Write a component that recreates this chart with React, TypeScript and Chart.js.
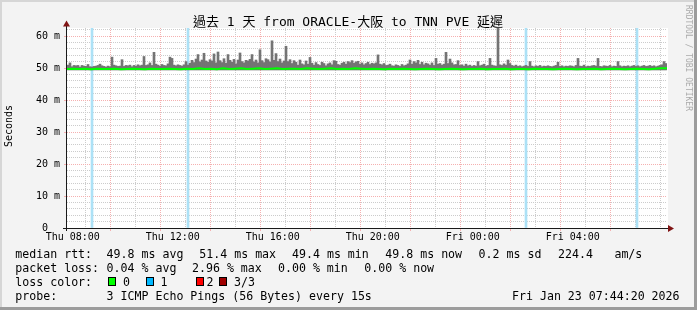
import { useEffect, useRef } from 'react';
import { Chart, registerables } from 'chart.js';

Chart.register(...registerables);

// ---- time axis (hours since Thu 00:00) ----
const START_HOUR = 7.77;
const END_HOUR = 31.77;
const SMOKE_STEP = 0.08; // hours per smoke sample
const MEDIAN_STEP = 0.24; // hours per median sample

const X_GRID_HOURS: number[] = [8, 9, 10, 11, 12, 13, 14, 15, 16, 17, 18, 19, 20, 21, 22, 23, 24, 25, 26, 27, 28, 29, 30, 31];
const X_LABEL_HOURS: number[] = [8, 12, 16, 20, 24, 28];
const X_TICK_LABELS: string[] = ['Thu 08:00', 'Thu 12:00', 'Thu 16:00', 'Thu 20:00', 'Fri 00:00', 'Fri 04:00'];

const Y_MAX = 62.5;
const Y_GRID: number[] = [0, 2, 4, 6, 8, 10, 12, 14, 16, 18, 20, 22, 24, 26, 28, 30, 32, 34, 36, 38, 40, 42, 44, 46, 48, 50, 52, 54, 56, 58, 60, 62];
const Y_LABEL_VALUES: number[] = [0, 10, 20, 30, 40, 50, 60];
const Y_TICK_LABELS: string[] = ['0  ', '10 m', '20 m', '30 m', '40 m', '50 m', '60 m'];

// ---- data (ms) ----
const SMOKE_FLOOR = 49.4;
const SMOKE_MAX: number[] = [
  50.9, 51.6, 50.4, 50.8, 50.7, 50.8, 50.3, 50.8, 50.6, 50.5,
  51.1, 50.4, 50.3, 50.5, 50.6, 50.8, 51.2, 50.7, 50.5, 50.3,
  50.6, 50.4, 53.4, 50.9, 50.7, 50.5, 50.6, 52.6, 50.5, 50.8,
  50.7, 50.9, 50.4, 50.8, 50.6, 51.0, 50.7, 50.9, 53.6, 50.8,
  51.0, 51.6, 50.8, 54.9, 51.2, 50.9, 50.6, 51.1, 50.8, 50.7,
  51.3, 53.4, 53.0, 50.9, 50.7, 51.0, 50.8, 50.6, 51.0, 52.0,
  50.9, 51.5, 52.4, 51.7, 52.8, 54.2, 51.9, 52.5, 54.6, 52.2,
  51.8, 52.6, 52.2, 54.4, 51.6, 55.0, 52.3, 51.7, 52.9, 51.5,
  54.2, 52.4, 51.8, 52.7, 51.3, 52.5, 54.7, 52.0, 51.6, 52.4,
  52.2, 52.7, 54.2, 51.9, 52.5, 51.6, 55.7, 52.3, 51.7, 52.9,
  52.6, 51.9, 58.5, 52.4, 54.5, 52.0, 52.8, 51.6, 52.2, 56.8,
  52.0, 52.6, 51.4, 52.3, 51.8, 50.9, 52.5, 51.3, 51.0, 52.2,
  51.2, 53.3, 51.5, 50.9, 51.7, 51.1, 50.8, 51.8, 51.4, 50.7,
  51.3, 51.6, 51.0, 52.3, 52.1, 51.1, 50.9, 51.5, 51.8, 51.2,
  52.0, 51.7, 52.3, 51.5, 51.9, 52.1, 51.2, 51.6, 51.0, 51.4,
  51.8, 51.1, 51.5, 51.3, 51.6, 54.1, 51.2, 51.0, 51.4, 50.8,
  50.9, 51.2, 50.7, 50.6, 51.0, 50.8, 50.5, 51.1, 50.7, 50.9,
  51.3, 52.5, 51.2, 52.0, 51.6, 52.4, 51.1, 51.8, 51.0, 51.5,
  51.3, 50.9, 51.6, 50.8, 53.0, 51.2, 51.4, 50.9, 51.2, 54.9,
  51.4, 52.8, 51.6, 51.0, 51.1, 52.3, 50.8, 51.0, 50.6, 51.2,
  50.7, 50.9, 50.5, 50.8, 50.6, 52.0, 50.7, 50.9, 51.2, 50.6,
  50.8, 53.0, 50.9, 50.7, 50.6, 70.0, 51.0, 50.8, 51.3, 50.9,
  52.5, 51.4, 50.8, 50.6, 50.9, 50.5, 50.7, 50.4, 50.6, 50.8,
  50.5, 52.0, 50.6, 50.4, 50.7, 50.5, 50.8, 50.4, 50.6, 50.5,
  50.7, 50.5, 50.4, 50.6, 50.8, 51.8, 50.5, 50.7, 50.4, 50.6,
  50.5, 50.7, 50.6, 50.4, 50.8, 53.0, 50.6, 50.5, 50.9, 50.4,
  50.6, 50.5, 50.7, 50.8, 50.6, 53.0, 50.5, 50.4, 50.7, 50.6,
  50.5, 50.8, 50.4, 50.6, 50.5, 52.0, 50.7, 50.4, 50.6, 50.5,
  50.7, 50.4, 50.6, 50.8, 50.5, 50.7, 50.4, 50.6, 50.8, 50.5,
  50.6, 50.8, 50.5, 50.7, 50.4, 50.6, 50.8, 51.0, 52.0, 51.4,
];

const MEDIAN: number[] = [
  49.7, 49.8, 49.7, 49.8, 49.6, 49.8, 49.7, 49.7, 49.8, 49.6,
  49.7, 49.8, 49.7, 49.6, 49.8, 49.7, 49.7, 49.8, 49.7, 49.6,
  49.8, 49.7, 49.9, 49.7, 49.8, 49.6, 49.9, 49.7, 49.8, 49.9,
  49.7, 49.8, 49.9, 49.7, 49.8, 49.9, 49.7, 49.8, 49.8, 49.7,
  49.9, 49.8, 49.7, 49.8, 49.9, 49.7, 49.8, 49.7, 49.9, 49.8,
  49.7, 49.8, 49.7, 49.6, 49.8, 49.7, 49.8, 49.7, 49.6, 49.7,
  49.8, 49.7, 49.6, 49.7, 49.8, 49.7, 49.6, 49.7, 49.7, 49.8,
  49.6, 49.7, 49.7, 49.8, 49.6, 49.7, 49.7, 49.6, 49.8, 49.7,
  49.7, 49.6, 49.7, 49.8, 49.7, 49.6, 49.7, 49.7, 49.8, 49.6,
  49.7, 49.8, 49.7, 49.6, 49.7, 49.8, 49.7, 49.6, 49.8, 49.9,
  49.9,
];

// packet-loss events (hour, lost pings of 3)
const LOSS_HOURS: number[] = [8.77, 12.61, 26.13, 30.57];
const LOSS_COUNT: number[] = [1, 1, 1, 1];

// ---- legend text ----
const TITLE = '過去 1 天 from ORACLE-大阪 to TNN PVE 延遲';
const RTT_ITEMS: string[] = ['median rtt:', '49.8 ms avg', '51.4 ms max', '49.4 ms min', '49.8 ms now', '0.2 ms sd', '224.4', 'am/s'];
const LOSS_ITEMS: string[] = ['packet loss:', '0.04 % avg', '2.96 % max', '0.00 % min', '0.00 % now'];
const LOSS_COLOR_LABEL = 'loss color:';
const LOSS_LEGEND_LABELS: string[] = ['0', '1', '2', '3/3'];
const LOSS_LEGEND_COLORS: string[] = ['#00ff00', '#00b8ff', '#ff0000', '#a00000'];
const LOSS_BG_COLORS: string[] = ['#00ff00', '#acE1f6', '#ff8080', '#c04040'];
const PROBE_ITEMS: string[] = ['probe:', '3 ICMP Echo Pings (56 Bytes) every 15s', 'Fri Jan 23 07:44:20 2026'];

const MONO = '"DejaVu Sans Mono", "Noto Sans CJK TC", monospace';
const MAJOR = '#f5b0b0';
const MINOR = '#cccccc';

function isMajorX(v: number) { return v % 2 === 0; }
function isMajorY(v: number) { return v % 10 === 0; }

const framePlugin = {
  id: 'rrdFrame',
  beforeDraw(chart: any) {
    const { ctx, chartArea: a, width, height } = chart;
    ctx.save();
    ctx.fillStyle = '#f3f3f3';
    ctx.fillRect(0, 0, width, height);
    ctx.fillStyle = '#ffffff';
    ctx.fillRect(a.left, a.top, a.right - a.left + 1, a.bottom - a.top);
    ctx.restore();
  },
  afterDraw(chart: any) {
    const { ctx, chartArea: a, width, height } = chart;
    ctx.save();
    // axes
    ctx.strokeStyle = '#1a1a1a';
    ctx.lineWidth = 1;
    ctx.beginPath();
    ctx.moveTo(a.left - 0.5, a.top - 6);
    ctx.lineTo(a.left - 0.5, a.bottom + 3);
    ctx.moveTo(a.left - 4, a.bottom + 0.5);
    ctx.lineTo(a.right + 2, a.bottom + 0.5);
    ctx.stroke();
    // arrows
    ctx.fillStyle = '#801414';
    ctx.beginPath();
    ctx.moveTo(a.left - 4, a.top - 1.5);
    ctx.lineTo(a.left + 3, a.top - 1.5);
    ctx.lineTo(a.left - 0.5, a.top - 7.5);
    ctx.closePath();
    ctx.fill();
    ctx.beginPath();
    ctx.moveTo(a.right + 1, a.bottom - 3);
    ctx.lineTo(a.right + 1, a.bottom + 4);
    ctx.lineTo(a.right + 7, a.bottom + 0.5);
    ctx.closePath();
    ctx.fill();

    // title
    ctx.fillStyle = '#000';
    ctx.font = '13px ' + MONO;
    ctx.textAlign = 'center';
    ctx.textBaseline = 'alphabetic';
    ctx.fillText(TITLE, 348, 26);

    // vertical axis label
    ctx.save();
    ctx.translate(9.5, 126);
    ctx.rotate(-Math.PI / 2);
    ctx.font = '10px ' + MONO;
    ctx.textAlign = 'center';
    ctx.textBaseline = 'middle';
    ctx.fillText('Seconds', 0, 0);
    ctx.restore();

    // watermark
    ctx.save();
    ctx.translate(688, 5);
    ctx.rotate(Math.PI / 2);
    ctx.font = '8px ' + MONO;
    ctx.fillStyle = '#aaaaaa';
    ctx.textAlign = 'left';
    ctx.textBaseline = 'middle';
    ctx.fillText('RRDTOOL / TOBI OETIKER', 0, 0);
    ctx.restore();

    // legend
    ctx.font = '11.6px ' + MONO;
    ctx.fillStyle = '#000';
    ctx.textAlign = 'left';
    ctx.textBaseline = 'alphabetic';
    const rttX = [15.3, 106.6, 199.3, 292, 385.3, 478.6, 558, 614.4];
    RTT_ITEMS.forEach((t, i) => ctx.fillText(t, rttX[i], 258));
    const lossX = [15.3, 106.6, 192, 278, 364.3];
    LOSS_ITEMS.forEach((t, i) => ctx.fillText(t, lossX[i], 272));
    ctx.fillText(LOSS_COLOR_LABEL, 15.3, 286);
    const boxX = [108, 146, 196, 219];
    const labX = [123, 160.5, 206.5, 234];
    LOSS_LEGEND_LABELS.forEach((t, i) => {
      ctx.fillStyle = LOSS_LEGEND_COLORS[i];
      ctx.fillRect(boxX[i], 277, 8, 9);
      ctx.strokeStyle = '#000';
      ctx.strokeRect(boxX[i] + 0.5, 277.5, 7, 8);
      ctx.fillStyle = '#000';
      ctx.fillText(t, labX[i], 286);
    });
    const probeX = [15.3, 106.6, 512];
    PROBE_ITEMS.forEach((t, i) => ctx.fillText(t, probeX[i], 300));

    // 3D frame
    ctx.fillStyle = '#d6d6d6';
    ctx.fillRect(0, 0, width, 2);
    ctx.fillRect(0, 0, 2, height);
    ctx.fillStyle = '#9c9c9c';
    ctx.fillRect(0, height - 3, width, 3);
    ctx.fillRect(width - 3, 0, 3, height);
    ctx.restore();
  },
};

export default function App() {
  const ref = useRef<HTMLCanvasElement>(null);
  useEffect(() => {
    document.body.style.margin = '0';
    const chart = new Chart(ref.current as HTMLCanvasElement, {
      type: 'bar',
      data: {
        datasets: [
          {
            type: 'bar',
            label: 'loss',
            data: LOSS_HOURS.map((h) => ({ x: h, y: [0, Y_MAX] })) as any,
            backgroundColor: LOSS_COUNT.map((c) => LOSS_BG_COLORS[c]),
            barThickness: 2,
            grouped: false,
            borderWidth: 0,
            order: 3,
          } as any,
          {
            type: 'bar',
            label: 'smoke',
            data: SMOKE_MAX.map((v, i) => ({ x: START_HOUR + (i + 0.5) * SMOKE_STEP, y: [SMOKE_FLOOR, v] })) as any,
            backgroundColor: '#747474',
            barThickness: 2,
            grouped: false,
            borderWidth: 0,
            order: 2,
          } as any,
          {
            type: 'line',
            label: 'median',
            data: MEDIAN.map((v, i) => ({ x: START_HOUR + i * MEDIAN_STEP, y: v })) as any,
            borderColor: '#00ff00',
            borderWidth: 2,
            pointRadius: 0,
            tension: 0,
            order: 1,
          } as any,
        ],
      },
      options: {
        responsive: false,
        animation: false,
        events: [],
        layout: { padding: { top: 28, right: 30, left: 0, bottom: 0 } },
        plugins: { legend: { display: false }, tooltip: { enabled: false }, title: { display: false } },
        scales: {
          x: {
            type: 'linear',
            min: START_HOUR,
            max: END_HOUR,
            offset: false,
            afterFit: (s: any) => { s.height = 82; },
            afterBuildTicks: (s: any) => { s.ticks = X_GRID_HOURS.map((v) => ({ value: v })); },
            grid: {
              color: (c: any) => (c.tick && isMajorX(c.tick.value) ? MAJOR : MINOR),
              tickColor: (c: any) => (c.tick && isMajorX(c.tick.value) ? MAJOR : 'rgba(0,0,0,0)'),
              tickLength: 3,
              lineWidth: 1,
            },
            border: { display: false, dash: [1, 1] },
            ticks: {
              autoSkip: false,
              maxRotation: 0,
              padding: 0,
              color: '#000',
              font: { family: MONO, size: 10 },
              callback: (v: any) => {
                const k = X_LABEL_HOURS.indexOf(Number(v));
                return k >= 0 ? X_TICK_LABELS[k] : '';
              },
            },
          },
          y: {
            type: 'linear',
            min: 0,
            max: Y_MAX,
            afterFit: (s: any) => { s.width = 67; },
            afterBuildTicks: (s: any) => { s.ticks = Y_GRID.map((v) => ({ value: v })); },
            grid: {
              color: (c: any) => (c.tick && isMajorY(c.tick.value) ? MAJOR : MINOR),
              tickColor: (c: any) => (c.tick && isMajorY(c.tick.value) ? MAJOR : 'rgba(0,0,0,0)'),
              tickLength: 3,
              lineWidth: 1,
            },
            border: { display: false, dash: [1, 1] },
            ticks: {
              autoSkip: false,
              padding: 4,
              color: '#000',
              font: { family: MONO, size: 10 },
              callback: (v: any) => {
                const k = Y_LABEL_VALUES.indexOf(Number(v));
                return k >= 0 ? Y_TICK_LABELS[k] : '';
              },
            },
          },
        },
      } as any,
      plugins: [framePlugin],
    });
    return () => chart.destroy();
  }, []);
  return (
    <div style={{ position: 'absolute', left: 0, top: 0, width: 697, height: 310 }}>
      <canvas ref={ref} width={697} height={310} style={{ display: 'block', width: 697, height: 310 }} />
    </div>
  );
}
